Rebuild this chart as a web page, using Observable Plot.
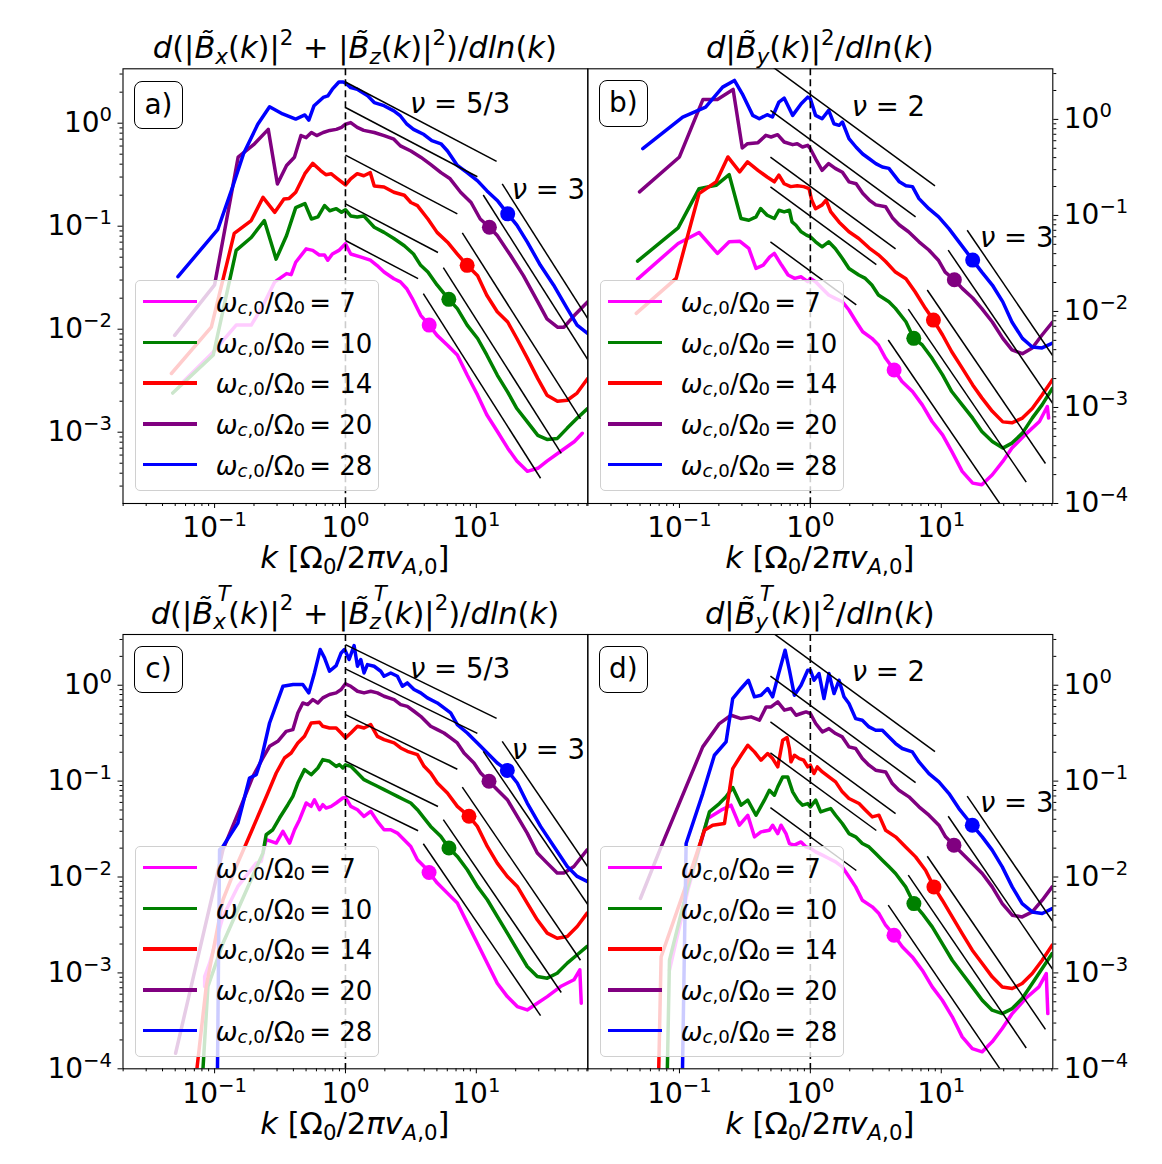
<!DOCTYPE html>
<html>
<head>
<meta charset="utf-8">
<script src="https://cdn.jsdelivr.net/npm/d3@7"></script>
<script src="https://cdn.jsdelivr.net/npm/@observablehq/plot@0.6"></script>
<style>
  html, body { margin: 0; padding: 0; background: #fff; }
  #fig { position: relative; width: 1162px; height: 1164px; font-family: "DejaVu Sans", sans-serif; color: #000; overflow: hidden; background: #fff; }
  #fig > svg { position: absolute; left: 0; top: 0; }
  .t { position: absolute; white-space: nowrap; }
  .t sub, .t sup { font-size: 0.7em; vertical-align: baseline; position: relative; line-height: 0; }
  .t sub { top: 0.25em; }
  .t sup { top: -0.62em; }
  .t.lg sub { top: 0.12em; }
  .ss { display: inline-block; position: relative; font-size: 0.7em; line-height: 0; vertical-align: baseline; padding-right: 0.1em; }
  .ss .up { position: absolute; left: 0.2em; top: -1.05em; }
  .ss .dn { position: relative; top: 0.25em; }
  .legend { position: absolute; box-sizing: border-box; background: rgba(255,255,255,0.8); border: 1px solid #d0d0d0; border-radius: 5px; }
  .lnk { position: absolute; height: 3.5px; }
  .plabel { position: absolute; box-sizing: border-box; border: 1.2px solid #000; border-radius: 8px; background: #fff; display: flex; align-items: center; justify-content: center; font-size: 28px; line-height: 28px; }
</style>
</head>
<body>
<div id="fig"></div>
<script>
// ---------------- data (log10 k, log10 dB^2/dln k) ----------------
const omegas = [7, 10, 14, 20, 28];
const colors = ["#ff00ff", "#008000", "#ff0000", "#800080", "#0000ff"];
const xMajor = [0.1, 1, 10];
const yMajorA = [1e-3, 1e-2, 1e-1, 1];
const yMajorBCD = [1e-4, 1e-3, 1e-2, 1e-1, 1];

// panel a
const a7 = [[-1.24,-2.51],[-1.01,-2.22],[-0.835,-1.96],[-0.72,-1.96],[-0.63,-1.77],[-0.54,-1.54],[-0.45,-1.46],[-0.415,-1.47],[-0.38,-1.35],[-0.30,-1.22],[-0.25,-1.235],[-0.20,-1.28],[-0.16,-1.28],[-0.135,-1.33],[-0.10,-1.27],[-0.05,-1.235],[0,-1.17],[0.04,-1.27],[0.12,-1.30],[0.19,-1.33],[0.24,-1.38],[0.295,-1.445],[0.37,-1.51],[0.42,-1.54],[0.47,-1.61],[0.51,-1.70],[0.575,-1.865],[0.64,-1.96],[0.70,-2.06],[0.78,-2.155],[0.855,-2.25],[0.93,-2.445],[1.01,-2.64],[1.08,-2.83],[1.16,-2.99],[1.24,-3.155],[1.31,-3.28],[1.39,-3.38],[1.47,-3.35],[1.54,-3.28],[1.64,-3.19],[1.75,-3.09],[1.81,-3.01]];
const a10 = [[-1.32,-2.62],[-1.01,-2.25],[-0.835,-1.235],[-0.72,-1.11],[-0.62,-0.945],[-0.53,-1.32],[-0.45,-1.09],[-0.38,-0.82],[-0.31,-0.78],[-0.26,-0.93],[-0.21,-0.91],[-0.16,-0.80],[-0.12,-0.85],[-0.07,-0.83],[-0.03,-0.865],[0,-0.84],[0.04,-0.90],[0.09,-0.91],[0.14,-0.90],[0.22,-1.01],[0.295,-1.06],[0.37,-1.12],[0.45,-1.19],[0.52,-1.27],[0.575,-1.38],[0.63,-1.445],[0.70,-1.57],[0.79,-1.71],[0.855,-1.80],[0.93,-1.96],[1.01,-2.09],[1.08,-2.25],[1.16,-2.445],[1.24,-2.61],[1.31,-2.77],[1.39,-2.90],[1.47,-3.03],[1.54,-3.07],[1.62,-3.06],[1.695,-2.96],[1.77,-2.865],[1.85,-2.77]];
const a14 = [[-1.33,-2.43],[-1.025,-1.98],[-0.85,-1.07],[-0.72,-0.945],[-0.63,-0.72],[-0.54,-0.865],[-0.47,-0.735],[-0.43,-0.73],[-0.38,-0.67],[-0.31,-0.49],[-0.25,-0.39],[-0.19,-0.46],[-0.15,-0.50],[-0.11,-0.49],[-0.07,-0.53],[-0.03,-0.57],[0,-0.60],[0.04,-0.54],[0.09,-0.49],[0.14,-0.51],[0.19,-0.48],[0.22,-0.61],[0.295,-0.62],[0.37,-0.67],[0.45,-0.70],[0.50,-0.77],[0.55,-0.80],[0.63,-0.93],[0.70,-1.06],[0.78,-1.155],[0.855,-1.27],[0.93,-1.38],[1.01,-1.48],[1.08,-1.67],[1.16,-1.83],[1.24,-1.93],[1.31,-2.09],[1.39,-2.28],[1.47,-2.48],[1.54,-2.64],[1.62,-2.70],[1.695,-2.69],[1.77,-2.62],[1.85,-2.48]];
const a20 = [[-1.305,-2.06],[-1.0,-1.57],[-0.82,-0.33],[-0.695,-0.20],[-0.59,-0.06],[-0.52,-0.59],[-0.45,-0.41],[-0.39,-0.33],[-0.34,-0.12],[-0.30,-0.14],[-0.26,-0.09],[-0.22,-0.12],[-0.17,-0.09],[-0.12,-0.07],[-0.07,-0.06],[-0.03,-0.04],[0,-0.01],[0.04,0.006],[0.09,-0.04],[0.14,-0.07],[0.22,-0.09],[0.295,-0.12],[0.37,-0.155],[0.42,-0.22],[0.50,-0.27],[0.575,-0.33],[0.65,-0.40],[0.73,-0.48],[0.80,-0.54],[0.88,-0.67],[0.96,-0.77],[1.03,-0.93],[1.10,-1.01],[1.16,-1.09],[1.26,-1.28],[1.36,-1.48],[1.47,-1.735],[1.54,-1.90],[1.62,-1.98],[1.67,-1.98],[1.75,-1.865],[1.85,-1.735]];
const a28 = [[-1.28,-1.49],[-0.975,-1.03],[-0.86,-0.61],[-0.78,-0.30],[-0.67,-0.01],[-0.58,0.16],[-0.48,0.09],[-0.38,0.04],[-0.31,0.08],[-0.28,0.03],[-0.24,0.17],[-0.17,0.25],[-0.135,0.265],[-0.10,0.33],[-0.05,0.40],[-0.02,0.40],[0,0.39],[0.04,0.345],[0.09,0.33],[0.17,0.265],[0.22,0.20],[0.295,0.17],[0.37,0.12],[0.42,0.07],[0.47,-0.01],[0.52,-0.06],[0.60,-0.11],[0.66,-0.17],[0.73,-0.20],[0.78,-0.27],[0.855,-0.41],[0.93,-0.48],[1.01,-0.56],[1.08,-0.655],[1.16,-0.75],[1.24,-0.88],[1.31,-0.99],[1.39,-1.155],[1.49,-1.38],[1.59,-1.57],[1.695,-1.80],[1.77,-1.96],[1.85,-2.04]];
const dotsA = [[0.64,-1.96],[0.79,-1.71],[0.93,-1.38],[1.10,-1.01],[1.24,-0.88]];
// reference power laws: [log10 k start, log10 value start, log10 k end, nu]
const refA = [[0,0.40,1.155,5/3],[0,0.152,1.008,5/3],[0,-0.31,0.855,5/3],[0,-0.784,0.707,5/3],[0,-1.139,0.555,5/3],
              [1.198,-0.59,1.852,3],[1.053,-0.697,1.852,3],[0.893,-1.065,1.796,3],[0.748,-1.403,1.649,3],[0.595,-1.655,1.491,3]];

// panel b
const b7 = [[-1.32,-1.663],[-1.01,-1.292],[-0.85,-1.178],[-0.71,-1.396],[-0.62,-1.275],[-0.54,-1.268],[-0.47,-1.344],[-0.415,-1.552],[-0.36,-1.517],[-0.31,-1.431],[-0.275,-1.396],[-0.22,-1.517],[-0.17,-1.621],[-0.12,-1.656],[-0.07,-1.639],[-0.02,-1.69],[0,-1.656],[0.04,-1.69],[0.09,-1.76],[0.14,-1.829],[0.19,-1.864],[0.245,-1.899],[0.295,-1.985],[0.35,-2.107],[0.40,-2.211],[0.47,-2.28],[0.52,-2.349],[0.575,-2.488],[0.64,-2.609],[0.70,-2.73],[0.78,-2.834],[0.855,-2.973],[0.93,-3.146],[1.01,-3.285],[1.08,-3.458],[1.16,-3.666],[1.24,-3.788],[1.31,-3.805],[1.39,-3.701],[1.47,-3.562],[1.54,-3.423],[1.64,-3.285],[1.75,-3.146],[1.81,-2.99],[1.82,-3.11]];
const b10 = [[-1.32,-1.476],[-1.01,-1.13],[-0.85,-0.721],[-0.72,-0.686],[-0.62,-0.575],[-0.53,-1.032],[-0.47,-1.05],[-0.415,-1.015],[-0.38,-0.928],[-0.33,-0.998],[-0.275,-1.032],[-0.24,-0.946],[-0.20,-0.963],[-0.16,-0.946],[-0.14,-1.067],[-0.11,-1.102],[-0.07,-1.171],[-0.03,-1.205],[0,-1.223],[0.04,-1.275],[0.09,-1.327],[0.14,-1.275],[0.19,-1.344],[0.245,-1.448],[0.295,-1.552],[0.37,-1.621],[0.42,-1.656],[0.47,-1.725],[0.52,-1.829],[0.60,-1.899],[0.65,-1.968],[0.73,-2.107],[0.79,-2.28],[0.855,-2.349],[0.93,-2.488],[1.01,-2.661],[1.08,-2.834],[1.16,-2.973],[1.24,-3.111],[1.31,-3.25],[1.39,-3.354],[1.47,-3.423],[1.54,-3.371],[1.62,-3.267],[1.695,-3.111],[1.77,-2.973],[1.85,-2.80]];
const b14 = [[-1.33,-2.02],[-1.025,-1.656],[-0.85,-0.772],[-0.72,-0.651],[-0.63,-0.391],[-0.54,-0.547],[-0.48,-0.443],[-0.40,-0.53],[-0.33,-0.60],[-0.275,-0.65],[-0.24,-0.58],[-0.20,-0.67],[-0.15,-0.70],[-0.10,-0.69],[-0.05,-0.70],[-0.01,-0.72],[0.01,-0.84],[0.04,-0.93],[0.09,-0.89],[0.12,-0.84],[0.155,-0.96],[0.22,-1.07],[0.295,-1.17],[0.37,-1.24],[0.45,-1.34],[0.52,-1.41],[0.575,-1.48],[0.65,-1.59],[0.73,-1.66],[0.80,-1.795],[0.88,-1.97],[0.94,-2.09],[1.01,-2.245],[1.08,-2.42],[1.16,-2.59],[1.24,-2.765],[1.31,-2.90],[1.39,-3.04],[1.47,-3.15],[1.54,-3.16],[1.62,-3.11],[1.695,-3.01],[1.77,-2.87],[1.85,-2.71]];
const b20 = [[-1.305,-0.754],[-1.0,-0.391],[-0.82,0.208],[-0.71,0.208],[-0.59,0.312],[-0.52,-0.298],[-0.48,-0.253],[-0.40,-0.242],[-0.34,-0.166],[-0.30,-0.183],[-0.25,-0.159],[-0.20,-0.235],[-0.135,-0.263],[-0.10,-0.253],[-0.06,-0.287],[-0.02,-0.27],[0,-0.305],[0.04,-0.41],[0.09,-0.53],[0.14,-0.46],[0.19,-0.51],[0.245,-0.55],[0.295,-0.65],[0.35,-0.67],[0.40,-0.77],[0.45,-0.84],[0.50,-0.89],[0.575,-0.91],[0.63,-1.03],[0.68,-1.10],[0.75,-1.17],[0.83,-1.275],[0.905,-1.36],[0.98,-1.47],[1.03,-1.59],[1.10,-1.67],[1.16,-1.76],[1.24,-1.86],[1.31,-1.97],[1.39,-2.11],[1.47,-2.28],[1.54,-2.40],[1.62,-2.44],[1.695,-2.38],[1.77,-2.245],[1.85,-2.11]];
const b28 = [[-1.28,-0.305],[-0.975,0.024],[-0.80,0.128],[-0.67,0.336],[-0.58,0.406],[-0.52,0.267],[-0.44,0.042],[-0.39,0.007],[-0.33,0.049],[-0.29,0.025],[-0.24,0.181],[-0.20,0.222],[-0.135,0.042],[-0.07,0.163],[-0.02,0.232],[0,0.215],[0.04,0.042],[0.09,0.007],[0.14,0.094],[0.18,-0.045],[0.22,-0.062],[0.245,-0.027],[0.295,-0.20],[0.35,-0.29],[0.40,-0.36],[0.45,-0.41],[0.50,-0.46],[0.55,-0.495],[0.60,-0.51],[0.68,-0.65],[0.73,-0.69],[0.78,-0.70],[0.83,-0.825],[0.905,-0.93],[0.98,-1.015],[1.06,-1.14],[1.135,-1.275],[1.24,-1.465],[1.31,-1.59],[1.39,-1.725],[1.47,-1.90],[1.54,-2.11],[1.62,-2.28],[1.695,-2.37],[1.77,-2.38],[1.85,-2.33]];
const dotsB = [[0.64,-2.61],[0.79,-2.28],[0.94,-2.09],[1.10,-1.67],[1.24,-1.465]];
const refB = [[-0.305,0.564,0.952,2],[-0.305,0.094,0.804,2],[-0.305,-0.392,0.651,2],[-0.305,-0.703,0.504,2],[-0.305,-1.275,0.351,2],
              [1.198,-1.154,1.852,3],[1.053,-1.362,1.852,3],[0.893,-1.777,1.796,3],[0.748,-1.975,1.649,3],[0.595,-2.297,1.45,3]];

// panel c
const c7 = [[-1.076,-3.142],[-1.076,-3.038],[-1.038,-2.899],[-0.936,-2.412],[-0.822,-2.098],[-0.682,-1.855],[-0.644,-1.837],[-0.606,-1.611],[-0.567,-1.629],[-0.529,-1.646],[-0.478,-1.524],[-0.427,-1.646],[-0.389,-1.507],[-0.351,-1.402],[-0.3,-1.228],[-0.262,-1.263],[-0.237,-1.194],[-0.198,-1.298],[-0.173,-1.246],[-0.148,-1.281],[-0.109,-1.263],[-0.071,-1.228],[-0.02,-1.176],[0,-1.17],[0.041,-1.263],[0.092,-1.298],[0.142,-1.368],[0.193,-1.315],[0.244,-1.42],[0.295,-1.507],[0.346,-1.507],[0.397,-1.542],[0.448,-1.611],[0.499,-1.681],[0.55,-1.82],[0.601,-1.89],[0.639,-1.953],[0.702,-2.063],[0.779,-2.168],[0.855,-2.272],[0.931,-2.481],[1.008,-2.69],[1.084,-2.899],[1.16,-3.108],[1.237,-3.247],[1.313,-3.351],[1.389,-3.386],[1.466,-3.316],[1.542,-3.247],[1.644,-3.142],[1.746,-3.072],[1.791,-2.968],[1.802,-3.316]];
const c10 = [[-1.094,-4.118],[-1.051,-3.142],[-0.936,-2.69],[-0.631,-1.751],[-0.606,-1.559],[-0.555,-1.507],[-0.504,-1.385],[-0.44,-1.246],[-0.402,-1.159],[-0.364,-1.02],[-0.313,-0.88],[-0.262,-0.933],[-0.211,-0.863],[-0.173,-0.776],[-0.122,-0.793],[-0.071,-0.846],[-0.046,-0.828],[-0.02,-0.863],[0,-0.83],[0.041,-0.846],[0.092,-0.915],[0.142,-0.985],[0.193,-1.02],[0.244,-1.054],[0.295,-1.089],[0.346,-1.124],[0.397,-1.159],[0.448,-1.194],[0.499,-1.228],[0.55,-1.298],[0.601,-1.385],[0.651,-1.472],[0.728,-1.576],[0.791,-1.698],[0.855,-1.785],[0.931,-1.924],[1.008,-2.098],[1.084,-2.237],[1.16,-2.411],[1.237,-2.585],[1.313,-2.759],[1.389,-2.933],[1.466,-3.038],[1.542,-3.055],[1.618,-3.003],[1.695,-2.898],[1.771,-2.811],[1.847,-2.724]];
const c14 = [[-1.145,-4.118],[-1.064,-3.142],[-0.936,-2.237],[-0.835,-1.89],[-0.746,-1.611],[-0.669,-1.367],[-0.593,-1.124],[-0.529,-0.915],[-0.466,-0.759],[-0.415,-0.707],[-0.364,-0.602],[-0.313,-0.533],[-0.262,-0.394],[-0.198,-0.387],[-0.173,-0.428],[-0.122,-0.446],[-0.071,-0.446],[-0.033,-0.498],[0,-0.55],[0.041,-0.498],[0.092,-0.428],[0.142,-0.446],[0.193,-0.411],[0.244,-0.533],[0.295,-0.567],[0.372,-0.602],[0.422,-0.654],[0.473,-0.689],[0.55,-0.724],[0.601,-0.846],[0.651,-0.915],[0.702,-1.02],[0.779,-1.124],[0.855,-1.263],[0.944,-1.367],[1.008,-1.472],[1.084,-1.681],[1.16,-1.855],[1.237,-1.994],[1.313,-2.098],[1.389,-2.272],[1.466,-2.446],[1.542,-2.585],[1.618,-2.638],[1.695,-2.62],[1.771,-2.516],[1.847,-2.377]];
const c20 = [[-1.298,-3.838],[-0.936,-1.715],[-0.809,-1.298],[-0.707,-0.95],[-0.631,-0.759],[-0.58,-0.637],[-0.517,-0.585],[-0.453,-0.481],[-0.402,-0.463],[-0.364,-0.289],[-0.326,-0.185],[-0.288,-0.202],[-0.249,-0.15],[-0.211,-0.185],[-0.173,-0.132],[-0.122,-0.097],[-0.071,-0.08],[-0.033,-0.045],[0,0.015],[0.041,-0.011],[0.092,-0.063],[0.142,-0.08],[0.193,-0.063],[0.244,-0.08],[0.295,-0.115],[0.372,-0.15],[0.422,-0.202],[0.473,-0.22],[0.524,-0.271],[0.575,-0.324],[0.651,-0.428],[0.702,-0.463],[0.753,-0.498],[0.804,-0.55],[0.855,-0.602],[0.906,-0.707],[0.982,-0.811],[1.033,-0.915],[1.097,-1.002],[1.16,-1.089],[1.237,-1.194],[1.313,-1.368],[1.389,-1.542],[1.466,-1.75],[1.542,-1.855],[1.618,-1.959],[1.669,-1.959],[1.746,-1.89],[1.847,-1.716]];
const c28 = [[-0.98,-4.3],[-0.962,-1.715],[-0.936,-1.681],[-0.822,-1.437],[-0.733,-0.968],[-0.682,-0.933],[-0.644,-0.776],[-0.58,-0.394],[-0.478,-0.011],[-0.40,0.007],[-0.326,0.007],[-0.28,-0.08],[-0.237,0.128],[-0.193,0.372],[-0.16,0.285],[-0.122,0.146],[-0.071,0.205],[-0.033,0.337],[-0.008,0.372],[0,0.355],[0.028,0.268],[0.066,0.414],[0.092,0.198],[0.117,0.268],[0.142,0.128],[0.168,0.215],[0.219,0.198],[0.27,0.146],[0.295,0.094],[0.346,0.128],[0.397,0.094],[0.435,-0.011],[0.473,0.024],[0.524,-0.045],[0.575,-0.08],[0.626,-0.132],[0.702,-0.185],[0.753,-0.237],[0.804,-0.289],[0.855,-0.411],[0.931,-0.498],[1.008,-0.602],[1.084,-0.706],[1.16,-0.811],[1.237,-0.888],[1.313,-1.02],[1.389,-1.229],[1.491,-1.472],[1.593,-1.681],[1.695,-1.89],[1.771,-1.994],[1.847,-2.046]];
const dotsC = [[0.639,-1.953],[0.791,-1.698],[0.944,-1.367],[1.097,-1.002],[1.237,-0.888]];
const refC = [[0,0.424,1.155,5/3],[0,0.17,1.008,5/3],[0,-0.306,0.855,5/3],[0,-0.793,0.707,5/3],[0,-1.148,0.555,5/3],
              [1.198,-0.585,1.852,3],[1.053,-0.689,1.852,3],[0.893,-1.062,1.796,3],[0.748,-1.402,1.649,3],[0.595,-1.653,1.491,3]];

// panel d
const d7 = [[-1.076,-2.972],[-0.936,-2.138],[-0.784,-1.39],[-0.682,-1.303],[-0.606,-1.251],[-0.542,-1.46],[-0.478,-1.356],[-0.427,-1.581],[-0.377,-1.529],[-0.313,-1.512],[-0.288,-1.46],[-0.249,-1.547],[-0.224,-1.46],[-0.186,-1.547],[-0.16,-1.651],[-0.122,-1.668],[-0.071,-1.634],[-0.033,-1.686],[0,-1.70],[0.041,-1.738],[0.092,-1.772],[0.142,-1.807],[0.193,-1.842],[0.244,-1.894],[0.295,-1.998],[0.346,-2.103],[0.397,-2.242],[0.473,-2.311],[0.524,-2.381],[0.575,-2.503],[0.639,-2.607],[0.702,-2.728],[0.779,-2.833],[0.855,-2.972],[0.931,-3.146],[1.008,-3.285],[1.084,-3.458],[1.16,-3.667],[1.237,-3.789],[1.313,-3.823],[1.389,-3.719],[1.466,-3.58],[1.542,-3.424],[1.644,-3.267],[1.746,-3.146],[1.802,-3.007],[1.814,-3.424]];
const d10 = [[-1.094,-4.118],[-1.076,-2.867],[-0.936,-2.103],[-0.771,-1.321],[-0.695,-1.234],[-0.644,-1.164],[-0.593,-1.067],[-0.529,-1.251],[-0.478,-1.199],[-0.415,-1.356],[-0.351,-1.199],[-0.313,-1.095],[-0.275,-1.147],[-0.249,-1.06],[-0.211,-0.956],[-0.173,-0.956],[-0.135,-1.112],[-0.097,-1.199],[-0.059,-1.251],[-0.02,-1.234],[0,-1.268],[0.041,-1.199],[0.079,-1.321],[0.117,-1.303],[0.155,-1.286],[0.193,-1.356],[0.244,-1.442],[0.295,-1.547],[0.346,-1.581],[0.397,-1.651],[0.448,-1.686],[0.499,-1.755],[0.55,-1.825],[0.601,-1.894],[0.651,-1.964],[0.728,-2.103],[0.791,-2.277],[0.855,-2.381],[0.931,-2.52],[1.008,-2.694],[1.084,-2.868],[1.16,-3.007],[1.237,-3.146],[1.313,-3.285],[1.389,-3.389],[1.466,-3.424],[1.542,-3.372],[1.618,-3.267],[1.695,-3.111],[1.771,-2.954],[1.847,-2.798]];
const d14 = [[-1.16,-4.118],[-1.14,-2.833],[-0.936,-2.033],[-0.809,-1.512],[-0.746,-1.46],[-0.656,-1.442],[-0.593,-0.869],[-0.529,-0.73],[-0.478,-0.626],[-0.427,-0.695],[-0.377,-0.782],[-0.326,-0.713],[-0.288,-0.765],[-0.249,-0.851],[-0.211,-0.573],[-0.178,-0.546],[-0.16,-0.66],[-0.148,-0.799],[-0.122,-0.73],[-0.084,-0.765],[-0.051,-0.782],[-0.02,-0.851],[0,-0.834],[0.028,-0.921],[0.053,-0.852],[0.092,-0.904],[0.142,-0.956],[0.193,-1.008],[0.244,-1.112],[0.295,-1.181],[0.372,-1.234],[0.422,-1.303],[0.473,-1.373],[0.524,-1.355],[0.575,-1.512],[0.651,-1.581],[0.728,-1.686],[0.804,-1.79],[0.88,-1.929],[0.944,-2.103],[1.008,-2.242],[1.084,-2.416],[1.16,-2.59],[1.237,-2.763],[1.313,-2.902],[1.389,-3.041],[1.466,-3.146],[1.542,-3.163],[1.618,-3.111],[1.695,-3.007],[1.771,-2.868],[1.847,-2.711]];
const d20 = [[-1.298,-2.224],[-1.14,-1.686],[-0.822,-0.643],[-0.695,-0.4],[-0.606,-0.313],[-0.529,-0.348],[-0.453,-0.33],[-0.389,-0.365],[-0.338,-0.226],[-0.3,-0.226],[-0.249,-0.174],[-0.198,-0.26],[-0.148,-0.243],[-0.109,-0.313],[-0.071,-0.295],[-0.033,-0.278],[0,-0.295],[0.041,-0.399],[0.092,-0.486],[0.142,-0.452],[0.193,-0.504],[0.244,-0.539],[0.295,-0.643],[0.346,-0.66],[0.397,-0.764],[0.448,-0.834],[0.499,-0.886],[0.575,-0.904],[0.626,-1.025],[0.677,-1.095],[0.753,-1.164],[0.83,-1.268],[0.906,-1.355],[0.982,-1.46],[1.033,-1.581],[1.097,-1.668],[1.16,-1.755],[1.237,-1.859],[1.313,-1.964],[1.389,-2.103],[1.466,-2.277],[1.542,-2.398],[1.618,-2.416],[1.695,-2.364],[1.771,-2.242],[1.847,-2.103]];
const d28 = [[-0.98,-4.3],[-0.949,-1.651],[-0.822,-1.13],[-0.733,-0.73],[-0.644,-0.591],[-0.593,-0.139],[-0.529,-0.034],[-0.473,0.052],[-0.427,-0.121],[-0.377,-0.104],[-0.326,-0.034],[-0.288,-0.121],[-0.249,0.087],[-0.193,0.365],[-0.16,0.157],[-0.122,-0.104],[-0.071,0.0],[-0.02,0.157],[0,0.157],[0.028,0.052],[0.066,0.122],[0.104,-0.139],[0.142,0.122],[0.181,-0.087],[0.219,0.052],[0.257,-0.121],[0.295,-0.191],[0.346,-0.348],[0.397,-0.365],[0.448,-0.435],[0.499,-0.469],[0.55,-0.469],[0.601,-0.539],[0.651,-0.608],[0.702,-0.66],[0.779,-0.695],[0.83,-0.8],[0.906,-0.921],[0.982,-1.008],[1.059,-1.13],[1.135,-1.286],[1.237,-1.46],[1.313,-1.581],[1.389,-1.72],[1.466,-1.894],[1.542,-2.103],[1.618,-2.277],[1.695,-2.364],[1.771,-2.381],[1.847,-2.329]];
const dotsD = [[0.639,-2.607],[0.791,-2.277],[0.944,-2.103],[1.097,-1.668],[1.237,-1.46]];
const refD = [[-0.305,0.564,0.952,2],[-0.305,0.094,0.804,2],[-0.305,-0.382,0.651,2],[-0.305,-0.706,0.504,2],[-0.305,-1.276,0.351,2],
              [1.198,-1.157,1.852,3],[1.053,-1.366,1.852,3],[0.893,-1.783,1.796,3],[0.748,-1.981,1.649,3],[0.595,-2.293,1.45,3]];

// texts
const titles = [
  '<i>d</i>(|<i>B&#771;</i><sub><i>x</i></sub>(<i>k</i>)|<sup>2</sup> + |<i>B&#771;</i><sub><i>z</i></sub>(<i>k</i>)|<sup>2</sup>)/<i>dln</i>(<i>k</i>)',
  '<i>d</i>|<i>B&#771;</i><sub><i>y</i></sub>(<i>k</i>)|<sup>2</sup>/<i>dln</i>(<i>k</i>)',
  '<i>d</i>(|<i>B&#771;</i><span class="ss"><span class="up"><i>T</i></span><span class="dn"><i>x</i></span></span>(<i>k</i>)|<sup>2</sup> + |<i>B&#771;</i><span class="ss"><span class="up"><i>T</i></span><span class="dn"><i>z</i></span></span>(<i>k</i>)|<sup>2</sup>)/<i>dln</i>(<i>k</i>)',
  '<i>d</i>|<i>B&#771;</i><span class="ss"><span class="up"><i>T</i></span><span class="dn"><i>y</i></span></span>(<i>k</i>)|<sup>2</sup>/<i>dln</i>(<i>k</i>)'
];
const panelLetters = ["a)", "b)", "c)", "d)"];
const xLabel = '<i>k</i> [Ω<sub>0</sub>/2<i>π</i><i>v</i><sub><i>A</i>,0</sub>]';
const nuLabels = [["5/3", "3"], ["2", "3"], ["5/3", "3"], ["2", "3"]];

// ---------------- layout ----------------
const W = 1162, H = 1164;
const xLogDomain = [-1.7, 1.852];
const panels = [
  {series: [a7, a10, a14, a20, a28], dots: dotsA, refs: refA, L: 122.5, R: 587.3, T: 68.3, B: 503, yLog: [-3.692, 0.528], side: "left", yMajor: yMajorA},
  {series: [b7, b10, b14, b20, b28], dots: dotsB, refs: refB, L: 587.3, R: 1052.3, T: 68.3, B: 503, yLog: [-4, 0.527], side: "right", yMajor: yMajorBCD},
  {series: [c7, c10, c14, c20, c28], dots: dotsC, refs: refC, L: 122.5, R: 587.3, T: 634, B: 1068.3, yLog: [-4, 0.529], side: "left", yMajor: yMajorBCD},
  {series: [d7, d10, d14, d20, d28], dots: dotsD, refs: refD, L: 587.3, R: 1052.3, T: 634, B: 1068.3, yLog: [-4, 0.529], side: "right", yMajor: yMajorBCD}
];

function minor(lo, hi) {
  const t = [];
  for (let e = Math.floor(lo); e <= Math.ceil(hi); e++)
    for (let m = 2; m <= 9; m++) { const v = m * 10 ** e; const l = Math.log10(v); if (l >= lo && l <= hi) t.push(v); }
  return t;
}
const pow = v => "10^" + Math.round(Math.log10(v));
const X = d => 10 ** d[0], Y = d => 10 ** d[1];

const fig = document.getElementById("fig");

panels.forEach((p, pi) => {
  const marks = [];
  p.series.forEach((s, i) => marks.push(Plot.line(s, {x: X, y: Y, stroke: colors[i], strokeWidth: 3.5, strokeLinejoin: "round", clip: true})));
  marks.push(Plot.ruleX([1], {stroke: "black", strokeWidth: 1.6, strokeDasharray: "7,4"}));
  marks.push(Plot.link(p.refs, {x1: r => 10 ** r[0], y1: r => 10 ** r[1], x2: r => 10 ** r[2], y2: r => 10 ** (r[1] + (1 - r[3]) * (r[2] - r[0])), stroke: "black", strokeWidth: 1.5, clip: true}));
  marks.push(Plot.dot(p.dots, {x: X, y: Y, r: 7.5, fill: (d, i) => colors[i], stroke: null}));
  marks.push(Plot.frame({stroke: "black", strokeWidth: 1.1}));
  marks.push(Plot.axisX(xMajor, {anchor: "bottom", tickSize: 5, tickPadding: 9, fontSize: 28, tickFormat: pow, label: null}));
  marks.push(Plot.axisX(minor(...xLogDomain), {anchor: "bottom", tickSize: 3, tickFormat: () => "", label: null}));
  marks.push(Plot.axisY(p.yMajor, {anchor: p.side, tickSize: 5, tickPadding: 6, fontSize: 28, tickFormat: pow, label: null}));
  marks.push(Plot.axisY(minor(...p.yLog), {anchor: p.side, tickSize: 3, tickFormat: () => "", label: null}));

  const svg = Plot.plot({
    width: W, height: H,
    marginLeft: p.L, marginRight: W - p.R, marginTop: p.T, marginBottom: H - p.B,
    x: {type: "log", domain: xLogDomain.map(v => 10 ** v)},
    y: {type: "log", domain: p.yLog.map(v => 10 ** v)},
    style: {background: "transparent", overflow: "visible", fontFamily: "DejaVu Sans", color: "black"},
    marks
  });
  // mathtext-like superscript exponents on tick labels
  svg.querySelectorAll("text").forEach(t => {
    const m = /^10\^(-?\d+)$/.exec(t.textContent);
    if (m) {
      t.textContent = "10";
      const ts = document.createElementNS("http://www.w3.org/2000/svg", "tspan");
      ts.setAttribute("dy", "-11");
      ts.setAttribute("font-size", "19.6");
      ts.textContent = m[1].replace("-", "\u2212");
      t.appendChild(ts);
    }
  });
  fig.appendChild(svg);
});

// ---------------- text overlays ----------------
function place(html, x, base, size, anchor, cls) {
  const d = document.createElement("div");
  d.className = "t" + (cls ? " " + cls : "");
  d.innerHTML = html;
  d.style.fontSize = size + "px";
  d.style.lineHeight = size + "px";
  d.style.top = (base - 0.846 * size) + "px";
  d.style.left = x + "px";
  if (anchor === "middle") d.style.transform = "translateX(-50%)";
  fig.appendChild(d);
  return d;
}

const titlePos = [[354.9, 59.3], [819.8, 59.3], [354.9, 624.5], [819.8, 624.5]];
titles.forEach((h, i) => place(h, titlePos[i][0], titlePos[i][1], 30.5, "middle"));
[[354.9, 569], [819.8, 569], [354.9, 1135], [819.8, 1135]].forEach(([x, b]) => place(xLabel, x, b, 30.5, "middle"));

// nu annotations
const nuPos = [[[410, 113], [511.7, 199.7]], [[851.7, 116.3], [980, 247.3]], [[410, 678], [511.7, 759]], [[851.7, 681.3], [980, 812.3]]];
nuLabels.forEach((pair, i) => pair.forEach((v, j) => place('<i>ν</i> = ' + v, nuPos[i][j][0], nuPos[i][j][1], 27.5, "start")));

// legends
const legendPos = [[135.3, 279.7], [600.3, 279.7], [135.3, 845.7], [600.3, 845.7]];
legendPos.forEach(([lx, ly]) => {
  const box = document.createElement("div");
  box.className = "legend";
  box.style.left = lx + "px"; box.style.top = ly + "px";
  box.style.width = "244px"; box.style.height = "211.6px";
  fig.appendChild(box);
  omegas.forEach((w, i) => {
    const cy = ly + 21.8 + i * 40.8;
    const ln = document.createElement("div");
    ln.className = "lnk";
    ln.style.left = (lx + 8) + "px"; ln.style.top = (cy - 1.75) + "px";
    ln.style.width = "53.4px"; ln.style.height = "3.5px"; ln.style.background = colors[i];
    fig.appendChild(ln);
    place('<i>ω</i><sub><i>c</i>,0</sub>/Ω<sub>0</sub><span style="margin-left:4px">=</span> ' + w, lx + 80.5, cy + 10.2, 26, "start", "lg");
  });
});

// panel letters
const letterBox = [[133.7, 81.3], [598.7, 79.7], [133.7, 645.7], [598.7, 645.7]];
letterBox.forEach(([x, y], i) => {
  const b = document.createElement("div");
  b.className = "plabel";
  b.style.left = x + "px"; b.style.top = y + "px";
  b.style.width = "49.5px"; b.style.height = "47.5px";
  b.textContent = panelLetters[i];
  fig.appendChild(b);
});
</script>
</body>
</html>
